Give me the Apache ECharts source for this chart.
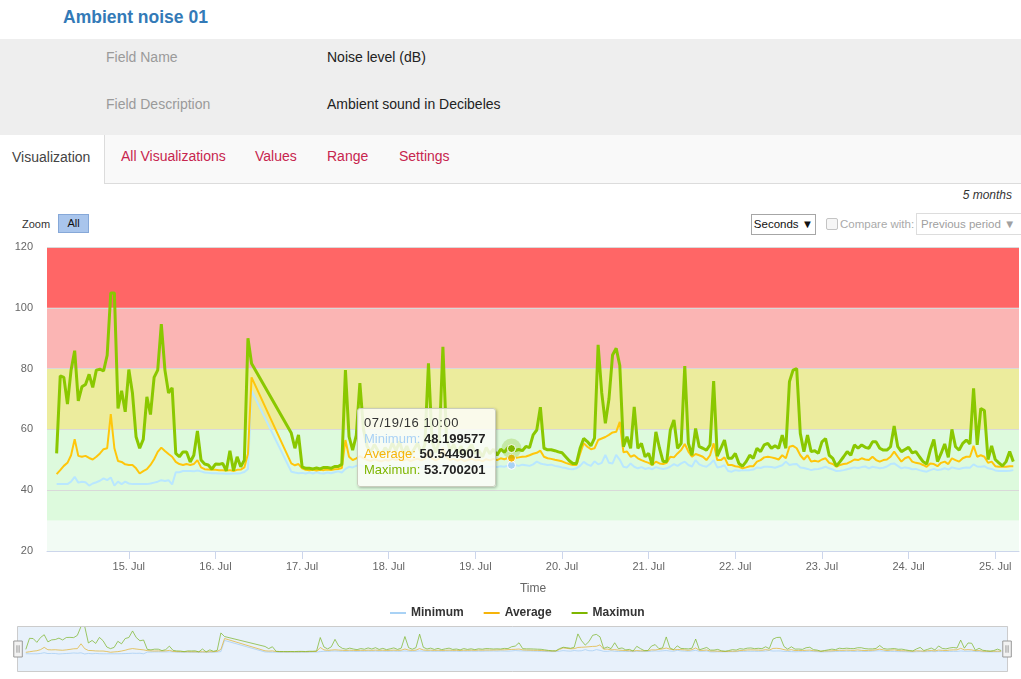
<!DOCTYPE html>
<html>
<head>
<meta charset="utf-8">
<script src="https://cdn.jsdelivr.net/npm/echarts@6/dist/echarts.min.js"></script>
<style>
  html, body { margin:0; padding:0; }
  body { width:1021px; height:679px; overflow:hidden; background:#fff; position:relative;
         font-family:'Liberation Sans', Arial, sans-serif; }
  .abs { position:absolute; white-space:nowrap; }
  #chart { position:absolute; left:0; top:0; width:1021px; height:679px; }
</style>
</head>
<body>
<div class="abs" style="left:63px;top:6px;font-size:17.5px;font-weight:bold;color:#337ab7;line-height:22px;">Ambient noise 01</div>
<div class="abs" style="left:0;top:39px;width:1021px;height:96px;background:#eeeeee;"></div>
<div class="abs" style="left:106px;top:47px;font-size:14px;line-height:20px;color:#9a9a9a;">Field Name</div>
<div class="abs" style="left:327px;top:47px;font-size:14px;line-height:20px;color:#222;">Noise level (dB)</div>
<div class="abs" style="left:106px;top:94px;font-size:14px;line-height:20px;color:#9a9a9a;">Field Description</div>
<div class="abs" style="left:327px;top:94px;font-size:14px;line-height:20px;color:#222;">Ambient sound in Decibeles</div>
<div class="abs" style="left:104px;top:135px;width:917px;height:48px;background:#f9f9f9;border-left:1px solid #dcdcdc;border-bottom:1px solid #dcdcdc;"></div>
<div class="abs" style="left:12px;top:147px;font-size:14px;line-height:20px;color:#444;">Visualization</div>
<div class="abs" style="left:121px;top:146px;font-size:14px;line-height:20px;color:#c7254e;">All Visualizations</div>
<div class="abs" style="left:255px;top:146px;font-size:14px;line-height:20px;color:#c7254e;">Values</div>
<div class="abs" style="left:327px;top:146px;font-size:14px;line-height:20px;color:#c7254e;">Range</div>
<div class="abs" style="left:399px;top:146px;font-size:14px;line-height:20px;color:#c7254e;">Settings</div>
<div class="abs" style="right:9px;top:188px;font-size:12px;line-height:14px;font-style:italic;color:#333;">5 months</div>
<div class="abs" style="left:22px;top:217px;font-size:11px;line-height:14px;color:#333;">Zoom</div>
<div class="abs" style="left:58px;top:214px;width:29px;height:17px;background:#a9c5ec;border:1px solid #86a8d8;font-size:11px;line-height:17px;color:#111;text-align:center;">All</div>
<div class="abs" style="left:751px;top:214px;width:63px;height:19px;border:1px solid #a6a6a6;background:#fff;font-size:11.5px;line-height:19px;color:#111;text-align:center;">Seconds &#9660;</div>
<div class="abs" style="left:826px;top:218px;width:10px;height:10px;border:1px solid #c4c4c4;border-radius:2px;background:#f6f6f6;"></div>
<div class="abs" style="left:840px;top:216px;font-size:11.5px;line-height:16px;color:#aaa;">Compare with:</div>
<div class="abs" style="left:916px;top:213px;width:101px;height:20px;border:1px solid #dddddd;background:#fff;font-size:11.5px;line-height:20px;color:#a0a0a0;padding-left:4px;box-sizing:content-box;">Previous period &#9660;</div>
<div id="chart"></div>
<script>
// ---------------- data ----------------
const seriesNames = ['Minimum', 'Average', 'Maximun'];
const seriesColors = ['#a9d2f5', '#f6b40a', '#7eb600'];
const MONTHS = ['Jan','Feb','Mar','Apr','May','Jun','Jul','Aug','Sep','Oct','Nov','Dec'];
// hourly readings starting 14 Jul 2016 04:00 (null = no reading)
const startTime = new Date(2016, 6, 14, 4, 0, 0).getTime();
const stepMs = 3600000;
const axisMin = new Date(2016, 6, 14, 1, 20, 0).getTime();
const axisMax = new Date(2016, 6, 25, 6, 35, 0).getTime();
const hoverIndex = 126; // 19 Jul 10:00
const yTicks = [20, 40, 60, 80, 100, 120];
const bandEdges = [20, 30, 60, 80, 100, 120];
const bandColors = ['#f2fbf4', '#ddfadd', '#ecec9d', '#fbb5b4', '#ff6666'];

const minimumValues = [
42,42,42,42,42.8,44.4,42.5,42.8,42.6,41.5,42.2,42.6,43.1,43.9,43.3,44.2,41.5,42.8,42,42.8,42.2,42,42,42,42,42,42.2,42.5,42.8,43.3,43,43.3,41.9,45.9,45.9,46.3,46.3,46.3,46.2,46.5,46.2,45.8,45.7,45.6,45.6,45.5,45.5,45.4,45.4,45.5,45.5,45.6,46,47,72.7,
null,null,null,null,null,null,null,null,null,null,
46.1,45.8,45.6,45.7,45.5,45.8,45.5,45.9,45.6,45.5,45.8,45.6,45.9,46.2,45.8,47,
47.7,47.5,48,48.3,47.8,47.6,47.4,47.8,47.5,47.3,47.7,47.5,47.9,47.6,48,47.5,47.8,47.4,47.7,48,47.5,47.9,48.5,47.8,47.5,47.9,48.6,48,47.7,47.9,47.5,47.8,47.4,47.7,48,47.6,47.8,47.4,47.8,47.6,47.9,47.6,47.9,47.7,48.1,
48.199577,
48.3,48,48.4,48.2,48,48.5,49.4,48.8,48.5,48.3,48.4,48,47.8,47.5,47.3,47,46.9,47.2,48,49.3,48.5,48,49.5,48.5,49,51.6,49,48.8,51.6,50,47.7,
47.5,48.8,47.7,47.2,47.6,47.0,47.3,46.9,47.6,47.2,47.0,47.2,47.8,48.6,48.0,48.8,49.4,48.3,47.8,49.9,48.5,48.0,47.7,48.6,49.9,47.5,47.7,48.2,46.3,46.1,46.6,46.4,46.6,46.6,46.6,46.8,47.5,47.3,47.7,47.7,47.6,47.4,47.8,48.2,49.4,48.3,48.5,48.6,47.5,47.3,47.0,46.6,46.9,47.0,
47.3,47.7,47.2,46.8,46.3,46.4,46.6,46.9,47.2,47.5,47.3,47.6,47.8,47.2,47.7,47.5,47.2,47.4,47.8,48.6,48.8,48.0,47.2,47.5,47.3,46.9,47.0,46.6,46.3,46.1,46.6,47.0,46.6,46.8,47.2,46.8,47.5,47.2,47.0,47.3,47.5,47.4,48.5,47.8,47.7,47.9,47.2,47.0,46.5,46.3,46.3,46.3,46.4,46.6
];

const averageValues = [
45.3,46.6,48,49,51.5,56.8,51.3,51,51.3,50.6,50.1,51,52.1,53.5,53.8,65,53.8,49.6,49.3,48.5,48.3,48.3,47.2,45.5,46.3,46.9,48.3,50.2,52.6,54,52.9,51.9,51,49.3,48.6,48.3,48.6,48.3,48.6,49.9,47.5,46.9,46.8,46.7,46.7,46.6,46.6,46.5,46.6,46.3,46.7,46.8,47.5,52,77.1,
null,null,null,null,null,null,null,null,null,null,
48.8,48.2,48.6,47.2,46.7,46.6,46.7,46.5,46.7,46.6,46.8,46.6,46.9,47.0,47.3,56.5,
51,49.9,50.5,51.2,50.5,50,49.6,50.2,49.8,49.5,50,49.7,50.3,49.9,50.5,49.8,50.2,49.6,50,50.4,49.8,50.3,53,50.5,49.8,50.4,54,50.8,50,50.3,49.7,50.2,49.6,50,50.4,49.8,50,49.5,50.2,49.8,50.3,49.9,50.5,50.2,50.6,
50.544901,
50.6,50.8,51,51.1,51.5,52,52.3,53,51,50.5,50.3,50,49.8,49.5,49,48.6,48.3,48.3,52,55.5,54.3,53.5,53.8,56.5,57,57.5,58.2,59,59.2,62.5,52.5,
52.7,51,51.5,50.5,49.9,49.4,49,48.3,49.4,48.8,48.6,49,51,50.8,52.1,53.2,55.2,52.7,51,51.9,51.5,51,49.9,51.5,55.4,49.9,49.9,50.8,48.3,48.3,47.9,47.7,47.2,47.5,47.9,47.9,49.4,49.9,50.8,51,50.8,50.5,50.1,51.5,50.5,54.3,54.6,53.8,51.5,50.1,51.5,49.4,49.7,49.4,
50.1,50.5,49,48.6,47.7,48.3,48.6,48.8,49.4,50.1,49.9,50.5,50.1,49.9,51,49.9,49.4,49.9,50.1,51,52.7,51,49.4,50.5,51,49.4,49,48.8,48.3,47.7,48.8,48.6,47.9,49,49.4,48.6,50.5,49.9,49.4,50.5,51,51,54.6,51,51.5,51,49,49.4,47.9,47.7,47.7,47.7,47.9,47.9
];

const maximumValues = [
52.1,77.6,77.1,68.3,79.5,85.9,69.4,74,74.8,78.1,73.8,79.5,79.8,79.2,84.4,104.9,104.9,66.9,72.7,65.8,79.7,72,57.6,53.8,56.7,70.7,64.9,77.1,79.5,94.6,79.5,72,73.7,52.1,51,52.6,52.6,49.3,51.5,59.5,49.9,48.6,48.3,46.9,48.6,48.5,48.8,46.4,53,46.4,51,47.7,49.9,90,81.7,
null,null,null,null,null,null,null,null,null,null,
58.8,53.8,58.2,47.7,47.2,47.2,47.0,47.3,47.0,47.5,47.5,47.2,47.8,47.8,48.5,79.5,57.6,53.2,58,75.2,
60,54.5,52.5,55,53,51.5,54,52.5,55.5,53,56,52,54.5,51.5,53.5,55.5,52,55,81.7,56,52.5,56,87.2,57,53,55,52,54.5,51.5,53.5,55,52,53,51,54,52,53.5,51.5,53.5,52.5,54,
53.700201,
53,53.4,53,54.4,54,58.2,59.8,67.3,53.8,53.3,53.3,53.0,52.6,52.3,51,49.7,48.8,48.8,53.8,57,56,54.6,57.1,
87.8,72,62,70,84.5,86.7,81,54.3,
57.6,53.8,67.4,53.8,55.4,51,52.1,48.3,59.2,53.8,49.4,49.4,59.8,63.1,53.8,55.4,80.8,55.4,51.5,60.3,54.3,53.8,53.2,54.9,75.9,51.2,53.8,56.5,50.5,50.5,52.1,48.8,47.9,49.4,51.5,50.5,53.8,52.7,54.9,55.4,53.8,54.6,53.8,58.1,53.8,75.7,79.5,80,58.7,52.7,58.1,52.7,53,52.1,
55.9,57,51.5,50.5,47.9,49.4,51,52.7,51.5,54.9,53.8,54.9,54.1,53.8,55.9,55.9,53.8,53.2,53.2,54.3,61.1,54.3,52.7,53.4,54.1,52.3,52.7,51,49.4,48.6,53.2,56.7,49.4,52.1,55.2,50.8,60,54.3,53.2,55.4,56.5,55.2,73.5,54.9,66.9,66.2,50.1,54.6,50.1,49,48,49.4,52.7,49.4
];

// ---------------- build ----------------
const FONT = "'Liberation Sans', Arial, sans-serif";
const allValues = [minimumValues, averageValues, maximumValues];
const lineWidths = [2, 2, 3];
function toPairs(vals) { return vals.map((v, i) => [startTime + i * stepMs, v]); }
function pad2(n) { return (n < 10 ? '0' : '') + n; }

const bandData = bandColors.map((c, i) => [
  { yAxis: bandEdges[i], itemStyle: { color: c } },
  { yAxis: bandEdges[i + 1] }
]);

const mainSeries = allValues.map((vals, k) => {
  const s = {
    name: seriesNames[k], type: 'line', xAxisIndex: 0, yAxisIndex: 0,
    data: toPairs(vals), connectNulls: true, showSymbol: false,
    symbol: 'circle', symbolSize: 8, z: 3,
    lineStyle: { color: seriesColors[k], width: lineWidths[k] },
    itemStyle: { color: seriesColors[k], borderColor: '#ffffff', borderWidth: 1 },
    emphasis: { scale: false, lineStyle: { width: lineWidths[k] } },
    animation: false,
    markPoint: {
      silent: true, animation: false, label: { show: false },
      data: (k === 2 ? [{
        coord: [startTime + hoverIndex * stepMs, vals[hoverIndex]], symbol: 'circle', symbolSize: 20,
        itemStyle: { color: 'rgba(126,182,0,0.25)', borderWidth: 0 }
      }] : []).concat([{
        coord: [startTime + hoverIndex * stepMs, vals[hoverIndex]], symbol: 'circle', symbolSize: 8,
        itemStyle: { color: seriesColors[k], borderColor: '#ffffff', borderWidth: 1 }
      }])
    }
  };
  if (k === 0) {
    s.markArea = { silent: true, z: 1, animation: false, itemStyle: { borderWidth: 0 }, data: bandData };
  }
  return s;
});

const navSeries = allValues.map((vals, k) => ({
  name: seriesNames[k], type: 'line', xAxisIndex: 1, yAxisIndex: 1,
  data: toPairs(vals), connectNulls: true, showSymbol: false, silent: true,
  lineStyle: { color: seriesColors[k], width: 1, opacity: 0.7 },
  itemStyle: { color: seriesColors[k] },
  animation: false, tooltip: { show: false }
}));

const chart = echarts.init(document.getElementById('chart'), null, { renderer: 'canvas' });
chart.setOption({
  backgroundColor: 'transparent',
  animation: false,
  textStyle: { fontFamily: FONT },
  grid: [
    { left: 47, right: 2, top: 247, bottom: 128, containLabel: false, outerBoundsMode: 'none' },
    { left: 16, right: 14, top: 626, height: 46, containLabel: false, outerBoundsMode: 'none' }
  ],
  legend: {
    data: seriesNames.map((n, k) => ({ name: n, itemStyle: { color: seriesColors[k], borderWidth: 0 } })),
    top: 602, left: 385, itemGap: 20, icon: 'rect',
    itemWidth: 16, itemHeight: 2, selectedMode: false,
    itemStyle: { borderWidth: 0 },
    textStyle: { fontFamily: FONT, fontSize: 12, fontWeight: 'bold', color: '#333333' }
  },
  xAxis: [
    {
      type: 'time', gridIndex: 0, min: axisMin, max: axisMax, z: 2,
      minInterval: 86400000, maxInterval: 86400000,
      name: 'Time', nameLocation: 'middle', nameGap: 32,
      nameTextStyle: { color: '#666666', fontSize: 12, fontFamily: FONT },
      axisLine: { lineStyle: { color: '#ccd6eb', width: 1 } },
      axisTick: { show: true, length: 8, lineStyle: { color: '#ccd6eb' } },
      splitLine: { show: false },
      axisLabel: {
        color: '#666666', fontSize: 11, fontFamily: FONT, margin: 10,
        showMinLabel: false, showMaxLabel: false,
        formatter: function (v) { const d = new Date(v); return d.getDate() + '. ' + MONTHS[d.getMonth()]; }
      }
    },
    {
      type: 'time', gridIndex: 1, min: axisMin, max: axisMax, show: false
    }
  ],
  yAxis: [
    {
      type: 'value', gridIndex: 0, min: yTicks[0], max: yTicks[yTicks.length - 1], interval: 20, z: 2,
      axisLine: { show: false }, axisTick: { show: false },
      splitLine: { show: true, lineStyle: { color: '#d9d9d9', width: 1 } },
      axisLabel: { color: '#666666', fontSize: 11, fontFamily: FONT, margin: 14 }
    },
    { type: 'value', gridIndex: 1, min: 0, max: 106, show: false, splitLine: { show: false } }
  ],
  dataZoom: [{
    type: 'slider', xAxisIndex: 1, filterMode: 'none', start: 0, end: 100,
    left: 16, right: 14, top: 626, height: 46,
    showDetail: false, showDataShadow: false, brushSelect: false, moveHandleSize: 0,
    realtime: false, zoomLock: true,
    backgroundColor: 'rgba(0,0,0,0)', borderColor: '#cccccc', borderRadius: 0,
    fillerColor: 'rgba(102,160,230,0.15)',
    handleIcon: 'path://M0,0H8V15H0Z M3,4V11 M5,4V11',
    handleSize: 16,
    handleStyle: { color: '#f2f2f2', borderColor: '#999999', borderWidth: 1 },
    emphasis: { handleStyle: { color: '#f2f2f2', borderColor: '#999999' } }
  }],
  tooltip: {
    trigger: 'axis', triggerOn: 'none', alwaysShowContent: true, transitionDuration: 0,
    axisPointer: { type: 'line', lineStyle: { color: 'rgba(0,0,0,0)' } },
    backgroundColor: 'rgba(252,252,248,0.86)', borderColor: '#c9cdbd', borderWidth: 1,
    padding: [6, 10, 9, 6],
    extraCssText: 'box-shadow:1px 1px 3px rgba(0,0,0,0.28);border-radius:3px;',
    textStyle: { fontFamily: FONT, fontSize: 13, color: '#333333' },
    position: function () { return [357, 408]; },
    formatter: function (params) {
      const list = params.filter(p => p.seriesIndex < 3);
      const d = new Date(list[0].value[0]);
      let html = '<div style="font-family:' + FONT.replace(/"/g, '') + ';font-size:13px;line-height:15.5px;color:#333;">';
      html += '<div style="letter-spacing:0.6px;">' + pad2(d.getMonth() + 1) + '/' + pad2(d.getDate()) + '/' +
        pad2(d.getFullYear() % 100) + ' ' + pad2(d.getHours()) + ':' + pad2(d.getMinutes()) + '</div>';
      list.forEach(p => {
        html += '<div><span style="color:' + seriesColors[p.seriesIndex] + '">' + p.seriesName +
          ':</span> <b style="color:#222">' + p.value[1] + '</b></div>';
      });
      return html + '</div>';
    }
  },
  series: mainSeries.concat(navSeries)
});
chart.dispatchAction({ type: 'showTip', seriesIndex: 2, dataIndex: hoverIndex });
</script>
</body>
</html>
